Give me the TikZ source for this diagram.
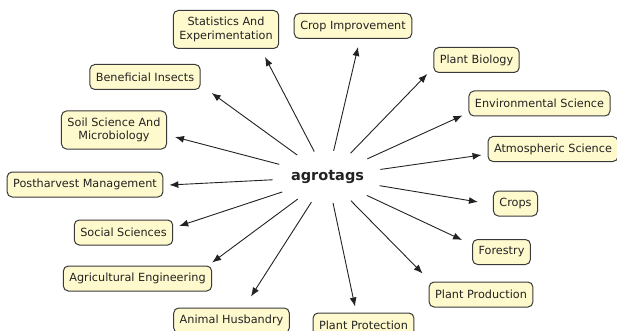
\documentclass[tikz,border=0pt]{standalone}
\usepackage{fontspec}
\setmainfont{DejaVu Sans}
\usetikzlibrary{arrows.meta,shapes.geometric}
\definecolor{boxfill}{HTML}{FFFACD}
\definecolor{boxline}{HTML}{3A3A3A}
\definecolor{ink}{HTML}{222222}
\begin{document}
\begin{tikzpicture}[x=1pt,y=-1pt,
  tag/.style={draw=boxline, fill=boxfill, rounded corners=5pt, line width=1pt,
    inner xsep=6pt, inner ysep=3pt, minimum height=25pt, align=center,
    font=\fontsize{11.25}{13.5}\selectfont, text=ink},
  twoline/.style={minimum height=38pt},
  hub/.style={ellipse, minimum width=110pt, minimum height=52pt, inner sep=0pt,
    font=\fontsize{14.5}{17}\selectfont\bfseries, text=ink},
  link/.style={draw=ink, line width=0.9pt, -{Latex[length=9pt,width=7pt]}}]
\useasboundingbox (0,0) rectangle (617,331);
\node[hub] (c) at (327.5,177) {agrotags};
\node[tag,twoline] (stat) at (226,29.5) {Statistics And\\Experimentation};
\node[tag] (crop) at (353,26) {Crop Improvement};
\node[tag] (bio) at (476.5,60) {Plant Biology};
\node[tag] (env) at (539.5,103.5) {Environmental Science};
\node[tag] (atm) at (553,149) {Atmospheric Science};
\node[tag] (crops) at (515.5,203.5) {Crops};
\node[tag] (forestry) at (501.5,252) {Forestry};
\node[tag] (production) at (481,294.5) {Plant Production};
\node[tag] (protection) at (363.5,325.5) {Plant Protection};
\node[tag] (animal) at (231.5,320.5) {Animal Husbandry};
\node[tag] (ag) at (137.5,278.5) {Agricultural Engineering};
\node[tag] (social) at (123.5,232.5) {Social Sciences};
\node[tag] (post) at (85,184.5) {Postharvest Management};
\node[tag,twoline] (soil) at (114,130) {Soil Science And\\Microbiology};
\node[tag] (benef) at (145,77) {Beneficial Insects};

\draw[link] (c) -- ([shift={(39,8)}]stat.south);
\draw[link] (c) -- ([shift={(5,8)}]crop.south);
\draw[link] (c) -- ([shift={(-6,1)}]bio.south west);
\draw[link] (c) -- ([shift={(-6,-1)}]env.south west);
\draw[link] (c) -- ([shift={(-6,6)}]atm.west);
\draw[link] (c) -- ([shift={(-15,-1.5)}]crops.west);
\draw[link] (c) -- ([shift={(-10,1)}]forestry.north west);
\draw[link] (c) -- ([shift={(-6,-8)}]production.north west);
\draw[link] (c) -- ([shift={(-8.5,-6)}]protection.north);
\draw[link] (c) -- ([shift={(19.5,-11)}]animal.north);
\draw[link] (c) -- ([shift={(0,-3)}]ag.north east);
\draw[link] (c) -- ([shift={(6,-6.5)}]social.east);
\draw[link] (c) -- ([shift={(6,0.5)}]post.east);
\draw[link] (c) -- ([shift={(8,7)}]soil.east);
\draw[link] (c) -- ([shift={(11,3)}]benef.south east);
\end{tikzpicture}
\end{document}
